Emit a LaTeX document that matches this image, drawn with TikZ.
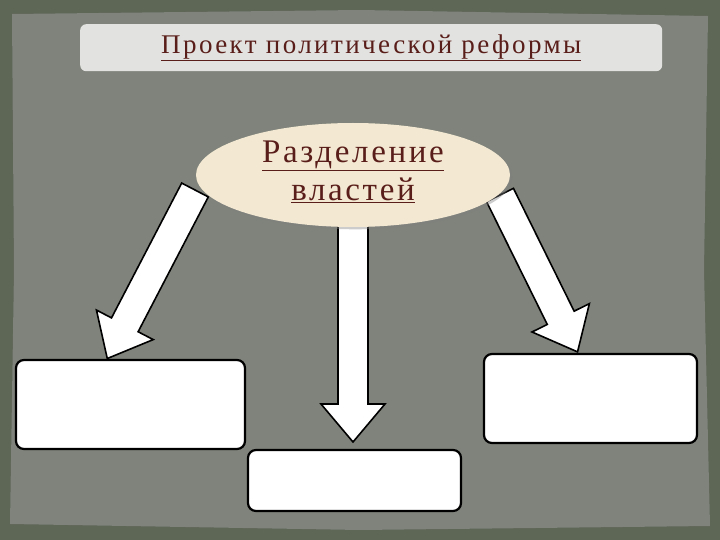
\documentclass[tikz,border=0pt]{standalone}
\usepackage{fontspec}
\setmainfont{Liberation Serif}
\usetikzlibrary{shadows,shapes.geometric}
\definecolor{frame}{HTML}{5E6656}
\definecolor{inner}{HTML}{7F837B}
\definecolor{titlebg}{HTML}{E2E3E0}
\definecolor{cream}{HTML}{F3E9D2}
\definecolor{txt}{HTML}{5A1E1A}
\tikzset{
  box/.style={draw=black, line width=2.2pt, fill=white, rounded corners=8pt},
  barrow/.style={draw=black, line width=1.6pt, fill=white, line join=miter},
}
\newcommand{\blockarrow}[4]{% start, angle, length, name
  \begin{scope}[shift={#1}, rotate=#2]
    \draw[barrow] (0pt,-15pt) -- (#3pt-38pt,-15pt) -- (#3pt-38pt,-32pt) -- (#3pt,0pt)
      -- (#3pt-38pt,32pt) -- (#3pt-38pt,15pt) -- (0pt,15pt) -- cycle;
    \coordinate (#4) at (#3pt,0pt);
  \end{scope}}
\begin{document}
\begin{tikzpicture}[x=1pt,y=-1pt]
\useasboundingbox (0,0) rectangle (720,540);
\fill[frame] (0,0) rectangle (720,540);
\fill[inner] (12,14) -- (360,10) -- (708,16) -- (704,270) -- (710,526) -- (360,530) -- (10,524) -- (14,270) -- cycle;
\node[fill=titlebg, rounded corners=6pt, minimum width=582pt, minimum height=47pt, anchor=north west, inner sep=0pt] (title) at (80,24) {};
\node[text=txt, font=\fontsize{27}{30}\selectfont\addfontfeatures{LetterSpace=9}] (titletext) at (title.center) {\underline{Проект политической реформы}};
\blockarrow{(195,190)}{242.5}{190}{la}
\blockarrow{(353,225)}{-90}{217}{ma}
\blockarrow{(500,195)}{-63.7}{175}{ra}
\node[ellipse, fill=cream, minimum width=314pt, minimum height=104pt, drop shadow={opacity=0.4}] (e) at (353,175) {};
\node[text=txt, align=center, font=\fontsize{33}{38}\selectfont\addfontfeatures{LetterSpace=8}] (etext) at (353,172) {\underline{Разделение}\\\underline{властей}};
\draw[box] (16,360) rectangle (245,449);
\node (lb) at (130,404) {};
\draw[box] (248,450) rectangle (461,511);
\node (mb) at (354,480) {};
\draw[box] (484,354) rectangle (697,443);
\node (rb) at (590,398) {};
\end{tikzpicture}
\end{document}
